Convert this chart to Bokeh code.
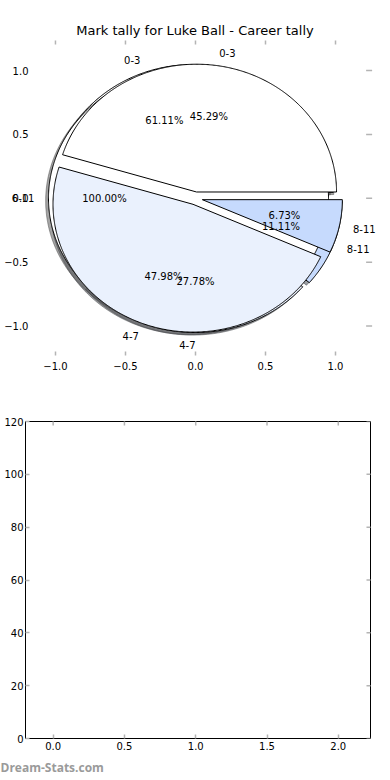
import numpy as np
from bokeh.plotting import figure
from bokeh.models import ColumnDataSource, FixedTicker, Title, LabelSet
from bokeh.layouts import column
from bokeh.core.properties import value, field
from bokeh.embed import file_html
from bokeh.resources import INLINE

# ---------------- data ----------------
title_text = "Mark tally for Luke Ball - Career tally"
# pies, drawn bottom to top
pie1_labels = ["0-3", "4-7", "8-11"]
pie1_counts = [11, 5, 2]
pie2_labels = ["6-11"]
pie2_counts = [1]
pie3_labels = ["0-3", "4-7", "8-11"]
pie3_counts = [101, 107, 15]
slice_colors = ["#ffffff", "#eaf1fd", "#c6dafd"]

pie_xticks = [-1.0, -0.5, 0.0, 0.5, 1.0]
pie_yticks = [-1.0, -0.5, 0.0, 0.5, 1.0]
pie_tick_labels = ["\u22121.0", "\u22120.5", "0.0", "0.5", "1.0"]
pie_axes_xlim = [-1.25, 1.24]      # limits of the original pie axes box
bar_xticks = [0.0, 0.5, 1.0, 1.5, 2.0]
bar_xtick_labels = ["0.0", "0.5", "1.0", "1.5", "2.0"]
bar_yticks = [0, 20, 40, 60, 80, 100, 120]
bar_ytick_labels = ["0", "20", "40", "60", "80", "100", "120"]
watermark = "Dream-Stats.com"

EXPLODE = 0.05
SHADOW = -0.02
FONT = "DejaVu Sans"
TICK_COLOR = "#b4b4b4"


def shade(hexcol, rho=0.3):
    h = hexcol.lstrip("#")
    r, g, b = (int(h[i:i + 2], 16) for i in (0, 2, 4))
    return "#%02x%02x%02x" % (int(r * rho), int(g * rho), int(b * rho))


def build_pie(labels, counts):
    total = float(sum(counts))
    wed = dict(xs=[], ys=[], sxs=[], sys=[], color=[], scolor=[])
    txt = dict(x=[], y=[], text=[], align=[])
    pct = dict(x=[], y=[], text=[])
    start = 0.0
    for i, (lab, c) in enumerate(zip(labels, counts)):
        frac = c / total
        t1, t2 = 360.0 * start, 360.0 * (start + frac)
        tm = np.deg2rad(0.5 * (t1 + t2))
        cx, cy = EXPLODE * np.cos(tm), EXPLODE * np.sin(tm)
        th = np.deg2rad(np.linspace(t1, t2, max(4, int((t2 - t1) * 2))))
        if frac > 0.999999:
            px, py = cx + np.cos(th), cy + np.sin(th)
        else:
            px = np.concatenate([[cx], cx + np.cos(th), [cx]])
            py = np.concatenate([[cy], cy + np.sin(th), [cy]])
        col = slice_colors[i % len(slice_colors)]
        wed["xs"].append(px)
        wed["ys"].append(py)
        wed["sxs"].append(px + SHADOW)
        wed["sys"].append(py + SHADOW)
        wed["color"].append(col)
        wed["scolor"].append(shade(col))
        lx, ly = cx + 1.1 * np.cos(tm), cy + 1.1 * np.sin(tm)
        txt["x"].append(lx)
        txt["y"].append(ly)
        txt["text"].append(lab)
        txt["align"].append("left" if lx > 0 else "right")
        pct["x"].append(cx + 0.6 * np.cos(tm))
        pct["y"].append(cy + 0.6 * np.sin(tm))
        pct["text"].append("%.2f%%" % (100.0 * frac))
        start += frac
    return wed, txt, pct


def style_axis(ax, ticks, labels, standoff, ticks_on=True):
    ax.ticker = FixedTicker(ticks=ticks)
    ax.major_label_overrides = {t: l for t, l in zip(ticks, labels)}
    ax.major_tick_in = 4
    ax.major_tick_out = 0
    ax.major_tick_line_color = TICK_COLOR if ticks_on else None
    ax.major_tick_line_width = 1.5
    ax.minor_tick_line_color = None
    ax.axis_line_color = None
    ax.major_label_text_font = FONT
    ax.major_label_text_font_size = "10px"
    ax.major_label_text_color = "black"
    ax.major_label_standoff = standoff


# ---------------- top: pies ----------------
top = figure(width=390, height=398, x_range=(-1.314, 1.307), y_range=(-1.23, 1.235),
             output_backend="svg", toolbar_location=None, title=title_text,
             min_border_left=11, min_border_right=12, min_border_top=40, min_border_bottom=43,
             frame_align=False)
top.title.align = "center"
top.title.text_font = FONT
top.title.text_font_size = "13px"
top.title.text_font_style = "normal"
top.title.text_color = "black"
top.title.standoff = 6
top.outline_line_color = None
top.grid.visible = False
style_axis(top.xaxis[0], pie_xticks, pie_tick_labels, 6)
style_axis(top.yaxis[0], pie_yticks, pie_tick_labels, -17, ticks_on=False)

pies = [build_pie(pie1_labels, pie1_counts),
        build_pie(pie2_labels, pie2_counts),
        build_pie(pie3_labels, pie3_counts)]

# shadows first (below all wedges)
for wed, _, _ in pies:
    src = ColumnDataSource(dict(xs=wed["sxs"], ys=wed["sys"], c=wed["scolor"]))
    top.patches(xs="xs", ys="ys", source=src, fill_color="c", fill_alpha=0.5,
                line_color="c", line_alpha=0.5, line_width=1)
for wed, _, _ in pies:
    src = ColumnDataSource(dict(xs=wed["xs"], ys=wed["ys"], c=wed["color"]))
    top.patches(xs="xs", ys="ys", source=src, fill_color="c", line_color="black",
                line_width=1)
for _, txt, pct in pies:
    top.add_layout(LabelSet(x="x", y="y", text="text", source=ColumnDataSource(txt),
                            text_align=field("align"), text_baseline="middle",
                            text_font=value(FONT), text_font_size="10px",
                            text_color="black"))
    top.add_layout(LabelSet(x="x", y="y", text="text", source=ColumnDataSource(pct),
                            text_align="center", text_baseline="middle",
                            text_font=value(FONT), text_font_size="10px",
                            text_color="black"))
# inward tick marks along the top edge and the right side of the original axes box
top.scatter(x=pie_xticks, y=[top.y_range.end] * len(pie_xticks), marker="dash", size=8,
            angle=np.pi / 2, line_color=TICK_COLOR, line_width=1.5)
top.scatter(x=[pie_axes_xlim[1]] * len(pie_yticks), y=pie_yticks, marker="dash", size=6,
            line_color=TICK_COLOR, line_width=1.5)

# ---------------- bottom: empty axes ----------------
bot = figure(width=390, height=382, x_range=(-0.194, 2.226), y_range=(0, 120),
             output_backend="svg", toolbar_location=None,
             min_border_left=25, min_border_right=20, min_border_top=23, min_border_bottom=40,
             frame_align=False)
bot.outline_line_color = "black"
bot.outline_line_width = 1
bot.outline_line_alpha = 1
bot.grid.visible = False
style_axis(bot.xaxis[0], bar_xticks, bar_xtick_labels, 3)
style_axis(bot.yaxis[0], bar_yticks, bar_ytick_labels, 2)
bot.scatter(x=bar_xticks, y=[bot.y_range.end] * len(bar_xticks), marker="dash", size=8,
            angle=np.pi / 2, line_color=TICK_COLOR, line_width=1.5)
bot.scatter(x=[bot.x_range.end] * len(bar_yticks), y=bar_yticks, marker="dash", size=8,
            line_color=TICK_COLOR, line_width=1.5)

wm = Title(text=watermark, align="left", offset=-25, text_color="#9a9a9a",
           text_font="Open Sans", text_font_size="12px", text_font_style="bold",
           standoff=9)
bot.add_layout(wm, "below")

layout = column(top, bot, spacing=0)

with open("out.html", "w") as f:
    f.write(file_html(layout, INLINE))
